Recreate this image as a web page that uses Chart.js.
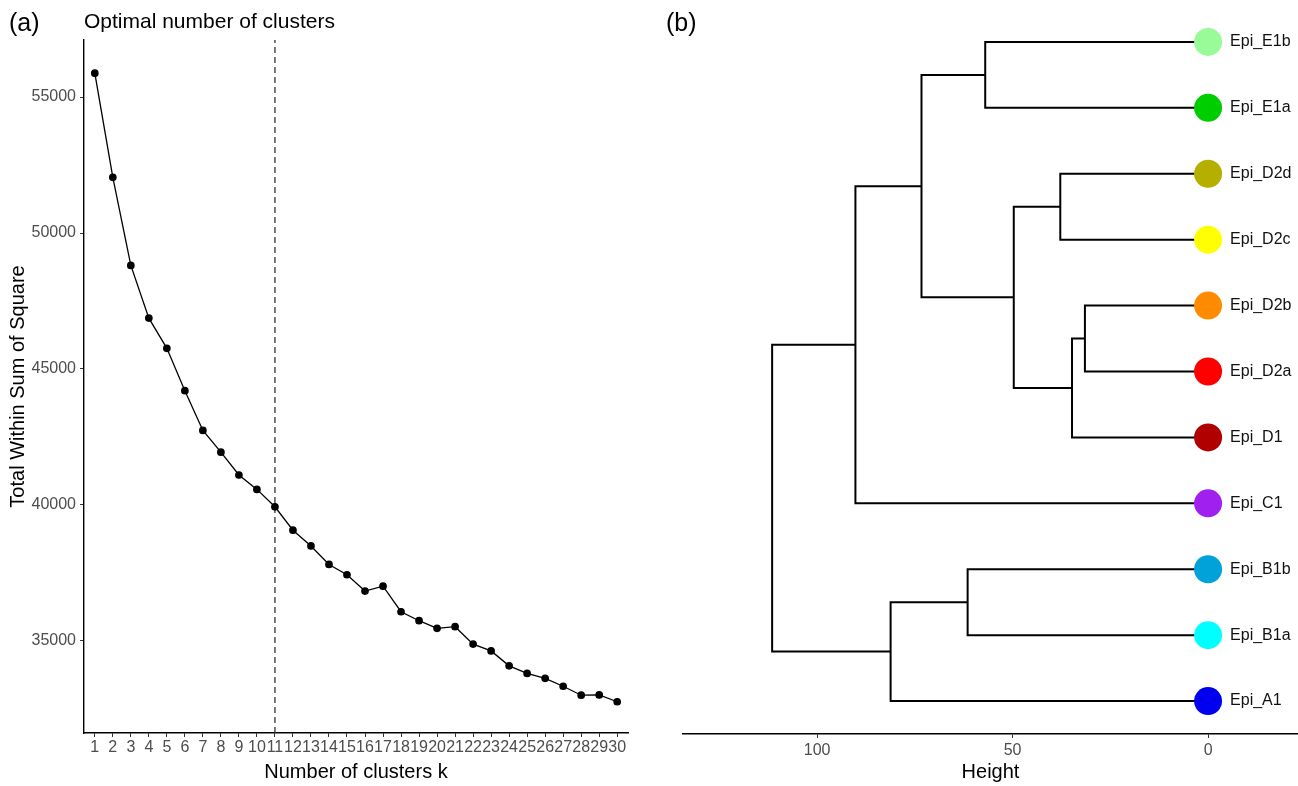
<!DOCTYPE html>
<html>
<head>
<meta charset="utf-8">
<script src="https://cdn.jsdelivr.net/npm/chart.js@4"></script>
<style>
  body { margin: 0; background: #fff; font-family: "Liberation Sans", Arial, sans-serif; }
  #wrap { position: relative; width: 1298px; height: 786px; }
  canvas { position: absolute; top: 0; }
  #cvA { left: 0; }
  #cvB { left: 650px; }
  .lbl { position: absolute; color: #000; white-space: nowrap; }
</style>
</head>
<body>
<div id="wrap">
  <canvas id="cvA" width="650" height="786"></canvas>
  <canvas id="cvB" width="648" height="786"></canvas>
  <div class="lbl" style="left:9px;top:8px;font-size:25px;">(a)</div>
  <div class="lbl" style="left:84px;top:9px;font-size:21px;">Optimal number of clusters</div>
  <div class="lbl" style="left:666px;top:8px;font-size:25px;">(b)</div>
</div>
<script>
// panel (a): elbow plot
const kValues = [1,2,3,4,5,6,7,8,9,10,11,12,13,14,15,16,17,18,19,20,21,22,23,24,25,26,27,28,29,30];
const wssValues = [55880,52050,48810,46870,45760,44200,42740,41940,41100,40570,
                   39930,39070,38490,37810,37430,36830,37010,36070,35740,35460,
                   35520,34880,34630,34080,33800,33620,33330,33000,33010,32760];
const bestK = 11;
const wssTicks = [35000, 40000, 45000, 50000, 55000];
const wssMin = 31610, wssMax = 57100;

// panel (b): dendrogram (leaves listed bottom to top)
const leafNames = ["Epi_A1","Epi_B1a","Epi_B1b","Epi_C1","Epi_D1","Epi_D2a","Epi_D2b","Epi_D2c","Epi_D2d","Epi_E1a","Epi_E1b"];
const leafColors = ["#0000EE","#00FFFF","#00A2DA","#A020F0","#B00000","#FF0000","#FF8C00","#FFFF00","#B5B000","#00CD00","#98FB98"];
// hclust-style merges: negative = leaf (1-based), positive = earlier merge
const mergePairs = [[-6,-7],[-5,1],[-8,-9],[2,3],[-10,-11],[-2,-3],[4,5],[-1,6],[7,-4],[8,9]];
const mergeHeights = [31.5, 34.8, 37.8, 49.7, 57.0, 61.5, 73.3, 81.2, 90.2, 111.5];
const heightTicks = [100, 50, 0];

const FONT = "'Liberation Sans', Arial, sans-serif";
Chart.defaults.font.family = FONT;
Chart.defaults.animation = false;

const tickColor = "#4d4d4d";

new Chart(document.getElementById("cvA"), {
  type: "scatter",
  data: {
    datasets: [
      {
        data: kValues.map((k, i) => ({ x: k, y: wssValues[i] })),
        showLine: true,
        borderColor: "#000",
        backgroundColor: "#000",
        borderWidth: 1.3,
        pointRadius: 3.2,
        pointHoverRadius: 3.2,
      },
      {
        data: [{ x: bestK, y: wssMin }, { x: bestK, y: wssMax }],
        showLine: true,
        borderColor: "#333",
        borderWidth: 1.3,
        borderDash: [6, 4],
        pointRadius: 0,
      },
    ],
  },
  options: {
    responsive: false,
    devicePixelRatio: 1,
    layout: { autoPadding: false, padding: { left: 0, top: 40, right: 22, bottom: 0 } },
    plugins: { legend: { display: false }, tooltip: { enabled: false } },
    scales: {
      x: {
        type: "linear",
        min: 0.4,
        max: 30.6,
        afterBuildTicks: (s) => { s.ticks = kValues.map((v) => ({ value: v })); },
        afterFit: (s) => { s.height = 53; },
        grid: { drawOnChartArea: false, drawTicks: true, tickLength: 4, color: "#333" },
        border: { display: true, color: "#000", width: 1.4 },
        ticks: { color: tickColor, font: { size: 16 }, padding: 1, maxRotation: 0, autoSkip: false },
        title: { display: true, text: "Number of clusters k", color: "#000", font: { size: 20 }, padding: { top: 0, bottom: 2 } },
      },
      y: {
        min: wssMin,
        max: wssMax,
        afterBuildTicks: (s) => { s.ticks = wssTicks.map((v) => ({ value: v })); },
        afterFit: (s) => { s.width = 84; },
        grid: { drawOnChartArea: false, drawTicks: true, tickLength: 4, color: "#333" },
        border: { display: true, color: "#000", width: 1.4 },
        ticks: { color: tickColor, font: { size: 16 }, padding: 4, callback: (v) => String(v) },
        title: { display: true, text: "Total Within Sum of Square", color: "#000", font: { size: 20 }, padding: { top: 6, bottom: 0 } },
      },
    },
  },
});

// node positions of the dendrogram, computed from the merge list
const nodeY = [];
const childY = (c) => (c < 0 ? -c : nodeY[c - 1]);
const childH = (c) => (c < 0 ? 0 : mergeHeights[c - 1]);
const treeSets = mergePairs.map((pair, i) => {
  const [a, b] = pair;
  nodeY[i] = (childY(a) + childY(b)) / 2;
  const h = mergeHeights[i];
  return {
    data: [
      { x: childH(a), y: childY(a) },
      { x: h, y: childY(a) },
      { x: h, y: childY(b) },
      { x: childH(b), y: childY(b) },
    ],
    showLine: true,
    borderColor: "#000",
    borderWidth: 2,
    pointRadius: 0,
    order: 1,
  };
});

const leafLabels = {
  id: "leafLabels",
  afterDatasetsDraw(chart) {
    const { ctx, scales } = chart;
    ctx.save();
    ctx.fillStyle = "#111";
    ctx.font = "16px " + FONT;
    ctx.textBaseline = "middle";
    ctx.textAlign = "left";
    leafNames.forEach((name, i) => {
      const px = scales.x.getPixelForValue(0) + 22;
      const py = scales.y.getPixelForValue(i + 1);
      ctx.fillText(name, px, py);
    });
    ctx.restore();
  },
};

new Chart(document.getElementById("cvB"), {
  type: "scatter",
  data: {
    datasets: [
      ...treeSets,
      {
        data: leafNames.map((n, i) => ({ x: 0, y: i + 1 })),
        pointRadius: 14,
        pointHoverRadius: 14,
        pointBackgroundColor: leafColors,
        pointBorderWidth: 0,
        borderWidth: 0,
        order: 0,
      },
    ],
  },
  plugins: [leafLabels],
  options: {
    responsive: false,
    devicePixelRatio: 1,
    layout: { autoPadding: false, padding: { left: 33, top: 9, right: 0, bottom: 0 } },
    plugins: { legend: { display: false }, tooltip: { enabled: false } },
    scales: {
      x: {
        type: "linear",
        reverse: true,
        min: -23,
        max: 134.3,
        afterBuildTicks: (s) => { s.ticks = heightTicks.map((v) => ({ value: v })); },
        afterFit: (s) => { s.height = 52; },
        grid: { drawOnChartArea: false, drawTicks: true, tickLength: 4, color: "#333" },
        border: { display: true, color: "#000", width: 1.4 },
        ticks: { color: tickColor, font: { size: 16 }, padding: 3 },
        title: { display: true, text: "Height", color: "#000", font: { size: 20 }, padding: { top: 0, bottom: 2 } },
      },
      y: {
        display: false,
        min: 0.5,
        max: 11.5,
      },
    },
  },
});
</script>
</body>
</html>
